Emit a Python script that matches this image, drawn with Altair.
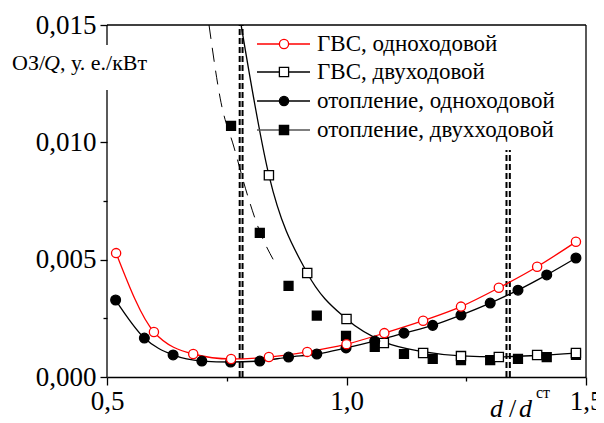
import altair as alt
import pandas as pd

# ---- data ----
gvs1_x = [0.519, 0.598, 0.680, 0.759, 0.838, 0.918, 1.000, 1.079, 1.160, 1.239, 1.318, 1.398, 1.479]
gvs1_y = [0.00528, 0.00192, 0.00098, 0.00077, 0.00085, 0.00107, 0.00140, 0.00187, 0.00240, 0.00300, 0.00380, 0.00470, 0.00576]

gvs2_x = [0.838, 0.918, 1.000, 1.078, 1.160, 1.239, 1.318, 1.398, 1.479]
gvs2_y = [0.00860, 0.00443, 0.00247, 0.00145, 0.00102, 0.00089, 0.00085, 0.00094, 0.00102]
gvs2_curve_x = [0.780, 0.838, 0.918, 1.000, 1.078, 1.160, 1.239, 1.318, 1.398, 1.479]
gvs2_curve_y = [0.01500, 0.00860, 0.00443, 0.00247, 0.00150, 0.00108, 0.00090, 0.00086, 0.00092, 0.00102]

ot1_x = [0.518, 0.578, 0.638, 0.698, 0.758, 0.819, 0.879, 0.938, 0.999, 1.059, 1.120, 1.180, 1.239, 1.300, 1.358, 1.418, 1.479]
ot1_y = [0.00328, 0.00166, 0.00094, 0.00068, 0.00064, 0.00068, 0.00085, 0.00098, 0.00124, 0.00153, 0.00187, 0.00220, 0.00264, 0.00315, 0.00370, 0.00435, 0.00507]

ot2_x = [0.759, 0.819, 0.879, 0.938, 0.999, 1.059, 1.120, 1.180, 1.239, 1.300, 1.358, 1.418, 1.479]
ot2_y = [0.01070, 0.00614, 0.00388, 0.00262, 0.00175, 0.00128, 0.00098, 0.00077, 0.00072, 0.00072, 0.00077, 0.00085, 0.00094]
ot2_curve_x = [0.713, 0.738, 0.765, 0.794, 0.819, 0.851]
ot2_curve_y = [0.01500, 0.01170, 0.00980, 0.00770, 0.00620, 0.00486]

vlines_x = [0.777, 0.783, 1.334, 1.341]
vlines_top = [0.015, 0.015, 0.00967, 0.00967]

legend_labels = ["ГВС, одноходовой", "ГВС, двуходовой", "отопление, одноходовой", "отопление, двухходовой"]

# frame segments: (x1, x2, y1, y2)
frame = pd.DataFrame({
    "x1": [0.5, 1.5, 0.5, 0.5],
    "x2": [1.5, 1.5, 0.5, 0.5],
    "y1": [0.015, 0.0, 0.0, 0.01415],
    "y2": [0.015, 0.015, 0.01223, 0.015],
})

FONT = "Liberation Serif"
xs = alt.Scale(domain=[0.5, 1.5], nice=False, zero=False)
ys = alt.Scale(domain=[0, 0.015], nice=False, zero=False)

xaxis = alt.Axis(
    values=[0.5, 0.75, 1.0, 1.25, 1.5],
    labelExpr="round(datum.value*100) % 50 == 0 ? replace(format(datum.value, '.1f'), '.', ',') : ''",
    tickSize={"condition": {"test": "round(datum.value*100) % 50 == 0", "value": 8}, "value": 4},
    labelFont=FONT, labelFontSize=27, labelColor="black", labelPadding=3,
    tickColor="black", tickWidth=1.3, domainColor="black", domainWidth=1.3,
    grid=False, title=None, labelFlush=False,
)
yaxis = alt.Axis(
    values=[0, 0.0025, 0.005, 0.0075, 0.01, 0.015],
    labelExpr="round(datum.value*10000) % 50 == 0 ? replace(format(datum.value, '.3f'), '.', ',') : ''",
    tickSize={"condition": {"test": "round(datum.value*10000) % 50 == 0", "value": 7}, "value": 4},
    labelFont=FONT, labelFontSize=27, labelColor="black", labelPadding=4,
    tickColor="black", tickWidth=1.3, domain=False,
    grid=False, title=None, labelFlush=False,
)

def X(f="x"):
    return alt.X(f"{f}:Q", scale=xs, axis=xaxis)

def Y(f="y"):
    return alt.Y(f"{f}:Q", scale=ys, axis=yaxis)

layers = []

# frame
layers.append(alt.Chart(frame).mark_rule(color="black", strokeWidth=1.3).encode(
    x=X("x1"), x2="x2", y=Y("y1"), y2="y2"))

# dashed vertical lines
vl = pd.DataFrame({"x": vlines_x, "y": [0.0] * 4, "y2": vlines_top})
layers.append(alt.Chart(vl).mark_rule(color="black", strokeWidth=2, strokeDash=[6, 3]).encode(
    x=X(), y=Y(), y2="y2"))

def line(xv, yv, color, dash=None, width=1.3):
    df = pd.DataFrame({"x": xv, "y": yv})
    kw = dict(color=color, strokeWidth=width, interpolate="monotone", clip=True)
    if dash:
        kw["strokeDash"] = dash
    return alt.Chart(df).mark_line(**kw).encode(x=X(), y=Y(), order="x:Q")

def pts(xv, yv, shape, fill, stroke, size):
    df = pd.DataFrame({"x": xv, "y": yv})
    return alt.Chart(df).mark_point(shape=shape, fill=fill, stroke=stroke, strokeWidth=1.3,
                                    size=size, opacity=1, fillOpacity=1).encode(x=X(), y=Y())

layers.append(line(ot2_curve_x, ot2_curve_y, "black", dash=[14, 9], width=1.0))
layers.append(line(gvs2_curve_x, gvs2_curve_y, "black"))
layers.append(line(ot1_x, ot1_y, "black"))
layers.append(line(gvs1_x, gvs1_y, "red"))
layers.append(pts(ot2_x, ot2_y, "square", "black", "black", 80))
layers.append(pts(gvs2_x, gvs2_y, "square", "white", "black", 85))
layers.append(pts(ot1_x, ot1_y, "circle", "black", "black", 95))
layers.append(pts(gvs1_x, gvs1_y, "circle", "white", "red", 85))

# legend (custom)
dummy = pd.DataFrame({"a": [0]})
leg_styles = [
    ("red", "circle", "white", "red"),
    ("black", "square", "white", "black"),
    ("black", "circle", "black", "black"),
    ("#555555", "square", "black", "black"),
]
leg_y = [19, 47, 76, 105]
for (lc, shp, fl, st), yy, lab in zip(leg_styles, leg_y, legend_labels):
    layers.append(alt.Chart(dummy).mark_rule(color=lc, strokeWidth=1.3).encode(
        x=alt.value(150), x2=alt.value(203), y=alt.value(yy)))
    layers.append(alt.Chart(dummy).mark_point(shape=shp, fill=fl, stroke=st, strokeWidth=1.3,
                                              size=85, opacity=1).encode(
        x=alt.value(177), y=alt.value(yy)))
    layers.append(alt.Chart(dummy).mark_text(text=lab, font=FONT, fontSize=23, align="left",
                                             baseline="middle", color="black").encode(
        x=alt.value(210), y=alt.value(yy)))

# y-axis title
def txt(t, x, y, size, style="normal"):
    return alt.Chart(dummy).mark_text(text=t, font=FONT, fontSize=size, fontStyle=style,
                                      align="left", baseline="alphabetic", color="black").encode(
        x=alt.value(x), y=alt.value(y))

layers.append(txt("ОЗ/", -95, 45, 22))
layers.append(txt("Q", -63, 45, 22, "italic"))
layers.append(txt(", у. е./кВт", -47, 45, 22))

# x-axis title
layers.append(txt("d", 383, 392, 26, "italic"))
layers.append(txt("/", 402, 392, 26))
layers.append(txt("d", 412, 392, 26, "italic"))
layers.append(txt("ст", 429, 373, 16))
layers.append(txt("э", 391, 410, 18))
layers.append(txt("э", 429, 410, 18))

chart = alt.layer(*layers).properties(
    width=479, height=352,
    autosize=alt.AutoSizeParams(type="none"),
    padding={"left": 99, "top": 17, "right": 10, "bottom": 46},
).configure(background="white").configure_view(stroke=None)

chart.save("out.html", embed_options={"renderer": "svg", "actions": False})
